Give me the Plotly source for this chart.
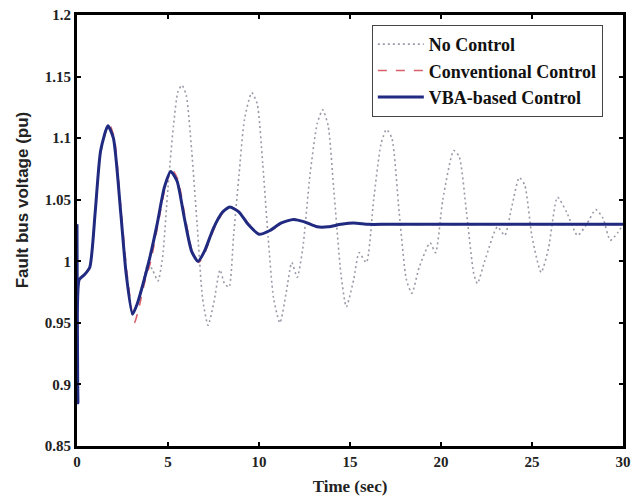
import plotly.graph_objects as go

# Time (sec) and voltage (pu) samples
t_vba = [0, 0.05, 0.12, 0.4, 0.7, 1.0, 1.3, 1.7, 2.0, 2.4, 2.7, 3.05, 3.3, 3.6, 4.0, 4.4, 4.8,
         5.15, 5.5, 5.9, 6.3, 6.65, 7.0, 7.5, 8.0, 8.4, 8.9, 9.4, 10.0, 10.6, 11.2, 11.9, 12.5,
         13.2, 13.8, 14.5, 15.2, 16.0, 17.0, 20.0, 25.0, 30.0]
v_vba = [1.03, 0.885, 0.985, 0.989, 0.995, 1.04, 1.09, 1.11, 1.10, 1.04, 0.99, 0.957, 0.965,
         0.98, 1.003, 1.03, 1.06, 1.073, 1.065, 1.035, 1.008, 1.0, 1.008, 1.027, 1.04, 1.044,
         1.04, 1.03, 1.022, 1.025, 1.031, 1.034, 1.032, 1.028, 1.028, 1.030, 1.031, 1.030,
         1.030, 1.030, 1.030, 1.030]

t_conv = [0, 0.05, 0.12, 0.4, 0.7, 1.0, 1.3, 1.75, 2.05, 2.4, 2.75, 3.15, 3.4, 3.7, 4.05, 4.45,
          4.85, 5.2, 5.55, 5.95, 6.35, 6.7, 7.05, 7.55, 8.05, 8.45, 8.95, 9.45, 10.05, 10.65,
          11.25, 11.95, 12.55, 13.25, 13.85, 14.55, 15.25, 16.0, 17.0, 20.0, 25.0, 30.0]
v_conv = [1.03, 0.885, 0.985, 0.989, 0.995, 1.04, 1.088, 1.112, 1.10, 1.045, 0.99, 0.950, 0.962,
          0.982, 1.0, 1.03, 1.06, 1.075, 1.066, 1.035, 1.007, 0.999, 1.008, 1.027, 1.04, 1.044,
          1.04, 1.03, 1.022, 1.025, 1.031, 1.034, 1.032, 1.028, 1.028, 1.030, 1.031, 1.030,
          1.030, 1.030, 1.030, 1.030]

t_none = [0, 0.05, 0.12, 0.4, 0.7, 1.0, 1.3, 1.7, 2.0, 2.4, 2.7, 3.05, 3.3, 3.6, 3.9, 4.15,
          4.45, 4.7, 5.0, 5.3, 5.55, 5.77, 6.0, 6.3, 6.6, 6.9, 7.2, 7.5, 7.86, 8.1, 8.35, 8.6,
          8.9, 9.2, 9.6, 9.9, 10.2, 10.5, 10.8, 11.15, 11.5, 11.8, 12.1, 12.4, 12.8, 13.2, 13.5,
          13.8, 14.1, 14.5, 14.8, 15.2, 15.5, 15.9, 16.3, 16.7, 17.0, 17.3, 17.7, 18.1, 18.4,
          18.8, 19.4, 19.7, 20.1, 20.7, 21.0, 21.4, 21.8, 22.0, 22.4, 23.1, 23.5, 23.9, 24.3,
          24.6, 25.0, 25.5, 25.9, 26.4, 26.9, 27.5, 28.0, 28.5, 28.9, 29.3, 29.7, 30.0]
v_none = [1.03, 0.885, 0.985, 0.989, 0.995, 1.04, 1.09, 1.11, 1.10, 1.04, 0.99, 0.957, 0.965,
          0.982, 0.998, 0.993, 0.984, 1.003, 1.06, 1.11, 1.138, 1.143, 1.135, 1.09, 1.03, 0.97,
          0.948, 0.965, 0.993, 0.982, 0.979, 1.02, 1.07, 1.115, 1.137, 1.128, 1.08, 1.02, 0.97,
          0.95, 0.975, 0.999, 0.987, 1.01, 1.07, 1.112, 1.123, 1.11, 1.06, 0.99, 0.963, 0.985,
          1.007, 0.999, 1.05, 1.095, 1.107, 1.10, 1.04, 0.985, 0.974, 0.995, 1.015, 1.007, 1.05,
          1.090, 1.085, 1.04, 0.99, 0.982, 1.0, 1.028, 1.021, 1.045, 1.068, 1.062, 1.02, 0.991,
          1.01, 1.052, 1.04, 1.021, 1.03, 1.042, 1.035, 1.017, 1.023, 1.03]

y_ticks = [0.85, 0.9, 0.95, 1.0, 1.05, 1.1, 1.15, 1.2]
y_labels = ["0.85", "0.9", "0.95", "1", "1.05", "1.1", "1.15", "1.2"]
x_ticks = [0, 5, 10, 15, 20, 25, 30]

serif = "Liberation Serif"

fig = go.Figure()
fig.add_trace(go.Scatter(x=t_none, y=v_none, mode="lines", name="<b>No Control</b>",
                         line=dict(color="#9a9aa8", width=1.6, dash="2px,3px", shape="spline", smoothing=0.6)))
fig.add_trace(go.Scatter(x=t_conv, y=v_conv, mode="lines", name="<b>Conventional Control</b>",
                         line=dict(color="#d9606a", width=1.6, dash="dash", shape="spline", smoothing=0.6)))
fig.add_trace(go.Scatter(x=t_vba, y=v_vba, mode="lines", name="<b>VBA-based Control</b>",
                         line=dict(color="#1f2a80", width=3, shape="spline", smoothing=0.6)))

fig.update_layout(
    width=631, height=500,
    margin=dict(l=77, r=8, t=15, b=54, autoexpand=False),
    paper_bgcolor="white", plot_bgcolor="white",
    showlegend=True,
    legend=dict(x=0.540, y=0.977, xanchor="left", yanchor="top",
                bgcolor="white", bordercolor="#444", borderwidth=1,
                font=dict(family=serif, size=18, color="#111"),
                tracegroupgap=0, itemwidth=46),
    xaxis=dict(range=[0, 30], tickvals=x_ticks, ticks="inside", ticklen=4, tickwidth=2,
               tickcolor="black", showline=True, linewidth=3, linecolor="black", mirror="ticks",
               showgrid=False, zeroline=False, automargin=False,
               tickfont=dict(family=serif, size=15, color="#222", weight="bold"),
               title=dict(text="<b>Time (sec)</b>", font=dict(family=serif, size=17, color="#222"),
                          standoff=12)),
    yaxis=dict(range=[0.85, 1.2], tickvals=y_ticks, ticktext=y_labels, ticks="inside", ticklen=4,
               tickwidth=2, tickcolor="black", showline=True, linewidth=3, linecolor="black",
               mirror="ticks", showgrid=False, zeroline=False, automargin=False,
               tickfont=dict(family=serif, size=15, color="#222", weight="bold")),
    annotations=[dict(text="<b>Fault bus voltage (pu)</b>", textangle=-90,
                      xref="paper", yref="paper", x=-0.1007, y=0.57,
                      xanchor="center", yanchor="middle", showarrow=False,
                      font=dict(family="Liberation Sans", size=17, color="#222"))],
)

fig.write_html("out.html")
